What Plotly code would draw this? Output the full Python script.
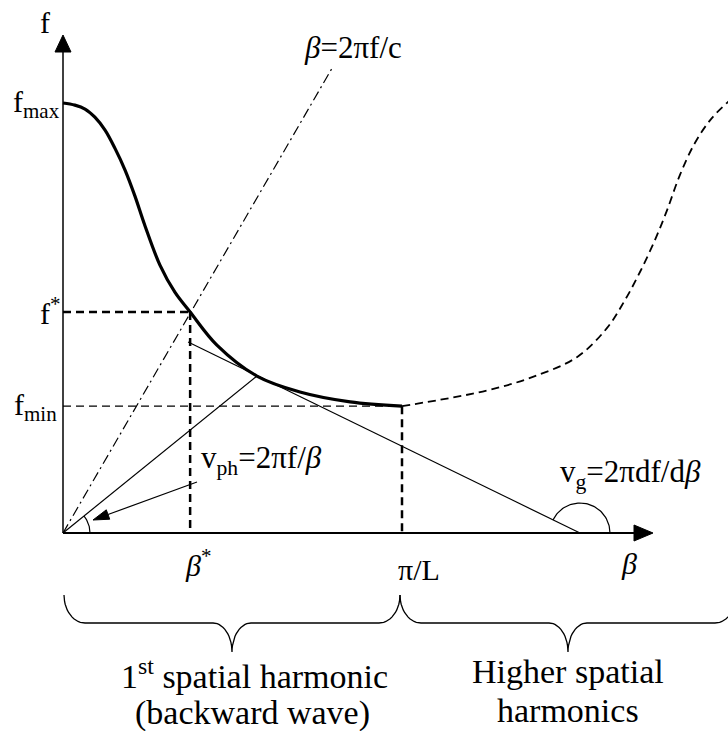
import numpy as np
import plotly.graph_objects as go

# ---------------- data (beta in units of pi/L, f normalised to f_max) ----------------
beta_main = [0.000, 0.035, 0.065, 0.094, 0.124, 0.153, 0.183, 0.212, 0.242, 0.286, 0.330, 0.375, 0.454, 0.572, 0.699, 0.847, 1.000]
f_main    = [1.000, 0.995, 0.986, 0.967, 0.937, 0.895, 0.844, 0.784, 0.714, 0.623, 0.560, 0.514, 0.437, 0.365, 0.328, 0.305, 0.295]

beta_high = [1.000, 1.142, 1.260, 1.386, 1.516, 1.605, 1.658, 1.702, 1.746, 1.782, 1.820, 1.864, 1.914, 1.968]
f_high    = [0.295, 0.314, 0.333, 0.363, 0.409, 0.477, 0.542, 0.607, 0.681, 0.751, 0.833, 0.907, 0.965, 1.007]

beta_star, f_star = 0.375, 0.514
f_min = 0.295
beta_edge = 1.0            # pi/L
light_slope = 1.362        # f = slope * beta   (beta = 2 pi f / c)
light_beta_end = 0.794
tangent_pt = (0.572, 0.365)     # point of tangency
vg_line_beta = [0.369, 1.525]
vg_line_f = [0.444, 0.0]

# ---------------- layout constants ----------------
W, H = 728, 731
OX, OY = 63, 533            # origin (px)
SX, SY = 339.0, 430.0       # px per unit
def X(px): return (px - OX) / SX
def Y(py): return (OY - py) / SY

FONT = "'Liberation Serif', 'Times New Roman', Times, serif"
fig = go.Figure()

def line(xs, ys, width=1.3, dash="solid", shape="linear"):
    fig.add_trace(go.Scatter(x=xs, y=ys, mode="lines", hoverinfo="skip",
                             line=dict(color="black", width=width, dash=dash, shape=shape)))

def tri(pts):
    xs = [p[0] for p in pts] + [pts[0][0]]
    ys = [p[1] for p in pts] + [pts[0][1]]
    fig.add_trace(go.Scatter(x=xs, y=ys, mode="lines", fill="toself", fillcolor="black",
                             hoverinfo="skip", line=dict(color="black", width=1)))

# axes
line([0, 0], [0, Y(52)], width=1.5)
tri([(X(55), Y(52)), (X(71), Y(52)), (X(63), Y(35))])
line([0, X(636)], [0, 0], width=2)
tri([(X(634), Y(525)), (X(634), Y(541)), (X(653), Y(533))])

# light line (dash-dot)
line([0, light_beta_end], [0, light_slope * light_beta_end], width=1.2, dash="10px,4px,2px,4px")

# guide dashed lines
line([0, beta_star], [f_star, f_star], width=2.5, dash="8px,5px")
line([beta_star, beta_star], [f_star, 0], width=2.5, dash="8px,5px")
line([0, beta_edge], [f_min, f_min], width=1.3, dash="8px,5px")
line([beta_edge, beta_edge], [f_min, 0], width=2.5, dash="8px,5px")

# phase-velocity line and group-velocity tangent
line([0, tangent_pt[0]], [0, tangent_pt[1]], width=1.2)
line(vg_line_beta, vg_line_f, width=1.2)

# dispersion curves
line(beta_main, f_main, width=3.2, shape="spline")
line(beta_high, f_high, width=1.8, dash="8px,5px", shape="spline")

# angle arcs
ang = np.arctan2(tangent_pt[1] * SY, tangent_pt[0] * SX)
t = np.linspace(0, ang, 30)
r = 27
line(list(X(OX + r * np.cos(t))), list(Y(OY - r * np.sin(t))), width=1.2)
cx = OX + vg_line_beta[1] * SX
a2 = np.pi - np.arctan2(vg_line_f[0] * SY, (vg_line_beta[1] - vg_line_beta[0]) * SX)
t = np.linspace(0, a2, 60)
r = 30
line(list(X(cx + r * np.cos(t))), list(Y(OY - r * np.sin(t))), width=1.2)

# v_ph pointer arrow
p0 = np.array([197.0, 482.0]); tip = np.array([93.0, 520.0])
u = (tip - p0) / np.linalg.norm(tip - p0)
n = np.array([-u[1], u[0]])
base = tip - 16 * u
line([X(p0[0]), X(base[0])], [Y(p0[1]), Y(base[1])], width=1.2)
tri([(X(tip[0]), Y(tip[1])), (X((base + 5 * n)[0]), Y((base + 5 * n)[1])),
     (X((base - 5 * n)[0]), Y((base - 5 * n)[1]))])

# braces
def brace(x0, x1, ytop=595, yh=623, ytip=652, rxe=21, rxm=19):
    xm = (x0 + x1) / 2
    px, py = [x0], [ytop]
    t = np.linspace(np.pi, np.pi / 2, 15)
    px += list(x0 + rxe + rxe * np.cos(t)); py += list(ytop + (yh - ytop) * np.sin(t))
    t = np.linspace(-np.pi / 2, 0, 15)
    px += list(xm - rxm + rxm * np.cos(t)); py += list(ytip + (ytip - yh) * np.sin(t))
    t = np.linspace(np.pi, 1.5 * np.pi, 15)
    px += list(xm + rxm + rxm * np.cos(t)); py += list(ytip + (ytip - yh) * np.sin(t))
    t = np.linspace(np.pi / 2, 0, 15)
    px += list(x1 - rxe + rxe * np.cos(t)); py += list(ytop + (yh - ytop) * np.sin(t))
    px += [x1]; py += [ytop]
    line(list(X(np.array(px))), list(Y(np.array(py))), width=1.3)

edge_px = OX + beta_edge * SX
brace(OX + 1, edge_px - 2)
brace(edge_px - 2, edge_px - 2 + (edge_px - 2 - OX - 1))

# ---------------- text ----------------
def txt(s, px, py, size=30, xanchor="center", yanchor="middle"):
    fig.add_annotation(x=X(px), y=Y(py), text=s, showarrow=False, xanchor=xanchor, yanchor=yanchor,
                       font=dict(family=FONT, size=size, color="black"))

txt("f", 45, 22)
txt("f<sub>max</sub>", 62, 104, xanchor="right")
txt("f<sup>*</sup>", 63, 311, xanchor="right")
txt("f<sub>min</sub>", 59, 407, xanchor="right")
txt("<i>β</i>=2πf/c", 353, 47, size=31)
txt("v<sub>ph</sub>=2πf/<i>β</i>", 199, 460, xanchor="left", size=31)
txt("v<sub>g</sub>=2πdf/d<i>β</i>", 558, 474, xanchor="left", size=31)
txt("<i>β</i><sup>*</sup>", 198, 563)
txt("π/L", 419, 569)
txt("<i>β</i>", 629, 563)
txt("1<sup>st</sup> spatial harmonic", 254, 674, size=34)
txt("(backward wave)", 252, 713, size=34)
txt("Higher spatial", 568, 671, size=34)
txt("harmonics", 568, 710, size=34)

fig.update_layout(
    width=W, height=H, margin=dict(l=0, r=0, t=0, b=0),
    font=dict(family=FONT),
    paper_bgcolor="white", plot_bgcolor="white", showlegend=False,
    xaxis=dict(range=[X(0), X(W)], visible=False, fixedrange=True),
    yaxis=dict(range=[Y(H), Y(0)], visible=False, fixedrange=True),
)
fig.write_html("out.html")
